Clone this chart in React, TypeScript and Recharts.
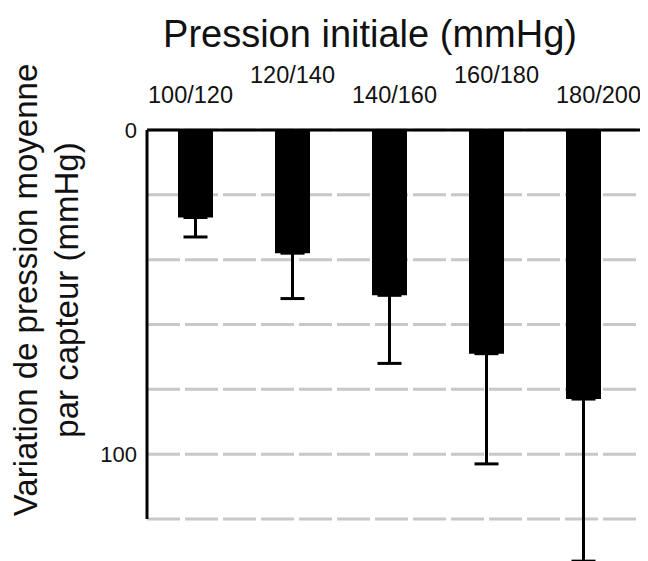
import { BarChart, Bar, XAxis, YAxis, CartesianGrid, ErrorBar, Label } from "recharts";

// Pression initiale (mmHg) et variation moyenne mesurée par capteur
const categories = ["100/120", "120/140", "140/160", "160/180", "180/200"];
const meanDrop = [27, 38, 51, 69, 83];
const errUpper = [6, 14, 21, 34, 50];
const yTicks = [0, 20, 40, 60, 80, 100, 120];
const labeledTicks = [0, 100];

const data = categories.map((name, i) => ({ name, value: meanDrop[i], err: [0, errUpper[i]] }));

const FONT = '"Liberation Sans", Arial, Helvetica, sans-serif';

// labels en quinconce au-dessus de l'axe
function StaggeredTick(props: any) {
  const { x, y, payload, index } = props;
  const up = index % 2 === 1;
  return (
    <text x={x + (index - 1) * 5} y={y - (up ? 47 : 27)} textAnchor="middle" fontSize={23.5} fill="#111" fontFamily={FONT}>
      {payload.value}
    </text>
  );
}

function Title() {
  return (
    <text x={362} y={39} textAnchor="middle" fontSize={38} fill="#111" fontFamily={FONT}>
      Pression initiale (mmHg)
    </text>
  );
}

function YTitle() {
  return (
    <text transform="translate(0,282) rotate(-90)" textAnchor="middle" fontSize={33} fill="#111" fontFamily={FONT}>
      <tspan x={0} y={29}>Variation de pression moyenne</tspan>
      <tspan x={0} y={70}>par capteur (mmHg)</tspan>
    </text>
  );
}

export default function App() {
  return (
    <div style={{ width: 640, height: 553 }}>
      <BarChart width={640} height={553} data={data} margin={{ top: 50, right: 0, left: 80, bottom: 42 }}>
        <CartesianGrid vertical={false} stroke="#c8c8c8" strokeWidth={3} strokeDasharray="33 5" />
        <XAxis
          dataKey="name"
          orientation="top"
          height={72}
          padding={{ left: 0, right: 16 }}
          axisLine={{ stroke: "#000", strokeWidth: 3 }}
          tickLine={false}
          tickSize={0}
          tickMargin={0}
          tick={<StaggeredTick />}
          interval={0}
        >
          <Label content={<Title />} />
        </XAxis>
        <YAxis
          width={59}
          reversed
          domain={[0, 120]}
          allowDataOverflow
          ticks={yTicks}
          interval={0}
          tickFormatter={(v: number) => (labeledTicks.includes(v) ? String(v) : "")}
          axisLine={{ stroke: "#000", strokeWidth: 3 }}
          tickLine={false}
          tickSize={0}
          tickMargin={10}
          tick={{ fontSize: 22, fill: "#111", fontFamily: FONT }}
        >
          <Label content={<YTitle />} />
        </YAxis>
        <Bar dataKey="value" fill="#000" barSize={35} isAnimationActive={false}>
          <ErrorBar dataKey="err" direction="y" width={12} strokeWidth={3} stroke="#000" isAnimationActive={false} />
        </Bar>
      </BarChart>
    </div>
  );
}
